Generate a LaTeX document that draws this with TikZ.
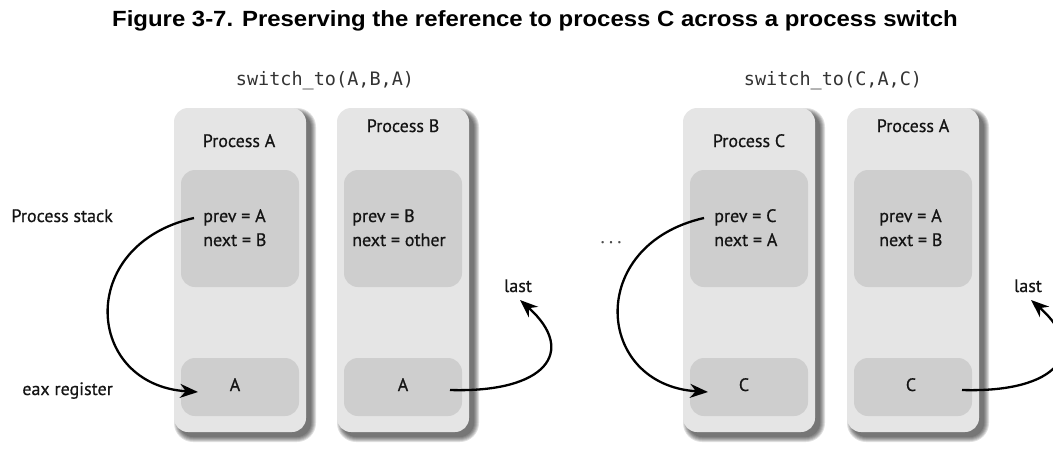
\documentclass[tikz,border=0pt]{standalone}
\usepackage{fontspec}
\usepackage{graphicx}
\setmainfont[FakeBold=0.6]{PT Sans}
\newfontfamily\titlefont{Liberation Sans}
\newfontfamily\codefont{DejaVu Sans Mono}
\usetikzlibrary{arrows.meta}
\definecolor{boxlight}{RGB}{229,229,229}
\definecolor{boxdark}{RGB}{206,206,206}
\definecolor{ink}{RGB}{20,20,20}
\begin{document}
\begin{tikzpicture}[x=1pt,y=-1pt,
  outerbox/.style={fill=boxlight, rounded corners=14pt, minimum width=132pt, minimum height=324pt, inner sep=0pt},
  stackbox/.style={fill=boxdark, rounded corners=14pt, minimum width=118pt, minimum height=117pt, inner sep=0pt},
  eaxbox/.style={fill=boxdark, rounded corners=14pt, minimum width=118pt, minimum height=58pt, inner sep=0pt},
  lbl/.style={font=\fontsize{18}{22}\selectfont, text=ink, inner sep=0pt},
  code/.style={font=\codefont\fontsize{18.5}{22}\selectfont, text=black!80, inner sep=0pt},
  conn/.style={draw=black, line width=2.3pt, -{Stealth[length=18pt,width=14pt]}}
]
\useasboundingbox (0,0) rectangle (1053,448);
\clip (0,0) rectangle (1053,448);

% title
\node[font=\titlefont\bfseries\fontsize{22}{26}\selectfont, anchor=base, inner sep=0pt] (title) at (535,26)
  {\scalebox{1.088}[1]{Figure 3-7. Preserving the reference to process C across a process switch}};

% shadows
\foreach \cx in {174,337,683,847}{
  \foreach \k in {0,...,5}{
    \pgfmathsetmacro\rr{14+\k}
    \fill[black, opacity=0.12, rounded corners=\rr pt] (\cx+5-\k, 113-\k) rectangle (\cx+137+\k, 437+\k);
  }
}

% process boxes
\node[outerbox] (boxA) at (240,270) {};
\node[outerbox] (boxB) at (403,270) {};
\node[outerbox] (boxC) at (749,270) {};
\node[outerbox] (boxAA) at (913,270) {};

\node[stackbox] (stA) at (240,228.5) {};
\node[stackbox] (stB) at (403,228.5) {};
\node[stackbox] (stC) at (749,228.5) {};
\node[stackbox] (stAA) at (913,228.5) {};

\node[eaxbox] (exA) at (240,387) {};
\node[eaxbox] (exB) at (403,387) {};
\node[eaxbox] (exC) at (749,387) {};
\node[eaxbox] (exAA) at (913,387) {};

% switch_to labels
\node[code, anchor=base] (swL) at (325,85) {switch\_to(A,B,A)};
\node[code, anchor=base] (swR) at (833,85) {switch\_to(C,A,C)};

% process titles
\node[lbl, anchor=base] (tA) at (239,147) {Process A};
\node[lbl, anchor=base] (tB) at (403,132) {Process B};
\node[lbl, anchor=base] (tC) at (749,147) {Process C};
\node[lbl, anchor=base] (tAA) at (913,132) {Process A};

% stack contents
\node[lbl, anchor=base west] (pA) at (203,222) {prev = A};
\node[lbl, anchor=base west] (nA) at (203,246) {next = B};
\node[lbl, anchor=base west] (pB) at (352,222) {prev = B};
\node[lbl, anchor=base west] (nB) at (352,246) {next = other};
\node[lbl, anchor=base west] (pC) at (714,222) {prev = C};
\node[lbl, anchor=base west] (nC) at (714,246) {next = A};
\node[lbl, anchor=base west] (pAA) at (879,222) {prev = A};
\node[lbl, anchor=base west] (nAA) at (879,246) {next = B};

% eax contents
\node[lbl, anchor=base] (vA) at (235,391) {A};
\node[lbl, anchor=base] (vB) at (403,391) {A};
\node[lbl, anchor=base] (vC) at (744,391) {C};
\node[lbl, anchor=base] (vAA) at (911,391) {C};

% side labels
\node[lbl, anchor=base east] (ps) at (113,222) {Process stack};
\node[lbl, anchor=base east] (eax) at (113,395) {eax register};
\node[lbl, anchor=base, text=black!70] (dots) at (611,243) {.\hspace{4.5pt}.\hspace{4.5pt}.};
\node[lbl, anchor=base] (lastL) at (518,292) {last};
\node[lbl, anchor=base] (lastR) at (1028,292) {last};

% connector end points
\coordinate (sA) at (194,218);
\coordinate (eA) at (198,392);
\coordinate (sC) at (704,218);
\coordinate (eC) at (708,392);
\coordinate (sB) at (450,390);
\coordinate (eB) at (520,300);
\coordinate (sAA) at (962,390);
\coordinate (eAA) at (1031,300);

% connectors
\draw[conn] (sA) .. controls (75,245) and (85,385) .. (eA);
\draw[conn] (sC) .. controls (585,245) and (595,385) .. (eC);
\draw[conn] (sB) .. controls (545,393) and (578,352) .. (eB);
\draw[conn] (sAA) .. controls (1057,393) and (1090,352) .. (eAA);
\end{tikzpicture}
\end{document}
